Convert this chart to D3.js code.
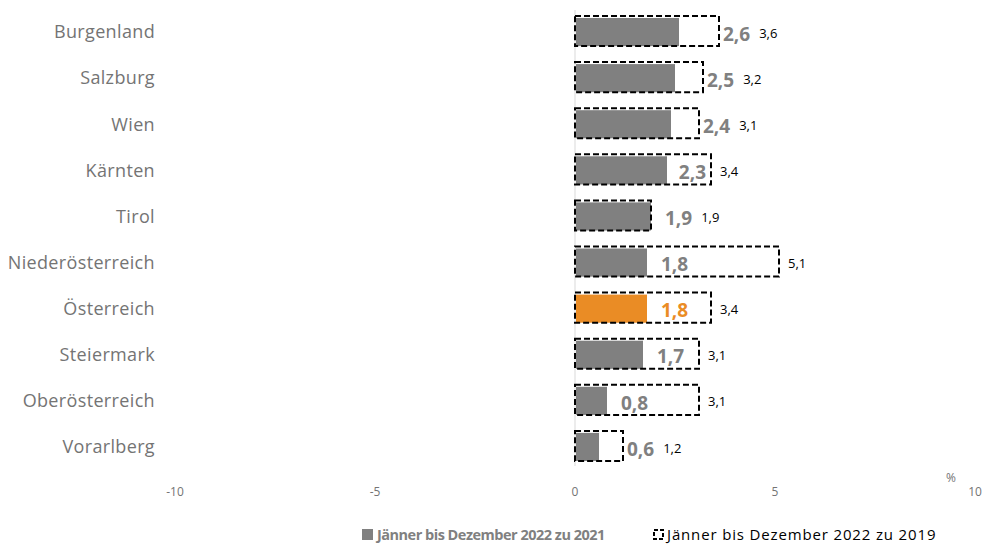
<!DOCTYPE html>
<html>
<head>
<meta charset="utf-8">
<script src="https://cdn.jsdelivr.net/npm/d3@7"></script>
<style>
  body { margin: 0; background: #fff; }
  text { font-family: "Open Sans", "Noto Sans", sans-serif; }
</style>
</head>
<body>
<div id="chart"></div>
<script>
var regions = ["Burgenland", "Salzburg", "Wien", "Kärnten", "Tirol", "Niederösterreich",
    "Österreich", "Steiermark", "Oberösterreich", "Vorarlberg"];
var vs2021 = [2.6, 2.5, 2.4, 2.3, 1.9, 1.8, 1.8, 1.7, 0.8, 0.6];
var vs2019 = [3.6, 3.2, 3.1, 3.4, 1.9, 5.1, 3.4, 3.1, 3.1, 1.2];
var xTicks = [-10, -5, 0, 5, 10];
var legendLabels = ["Jänner bis Dezember 2022 zu 2021", "Jänner bis Dezember 2022 zu 2019"];

var data = regions.map(function (r, i) {
    return { region: r, a: vs2021[i], b: vs2019[i] };
});

var width = 984, height = 546;
var fmt = function (v) { return d3.format(".1f")(v).replace(".", ","); };

var svg = d3.select("#chart")
    .append("svg")
    .attr("width", width)
    .attr("height", height);

var x = d3.scaleLinear()
    .domain([-10, 10])
    .range([175, 975]);

var y = d3.scaleBand()
    .domain(regions)
    .range([9, 470])
    .paddingInner(0.39)
    .paddingOuter(0.195);

// zero line
svg.append("line")
    .attr("x1", x(0)).attr("x2", x(0))
    .attr("y1", 10).attr("y2", 466)
    .attr("stroke", "#d9d9d9")
    .attr("stroke-width", 1);

// category labels
svg.selectAll(".cat")
    .data(data)
    .join("text")
    .attr("x", 155)
    .attr("y", d => y(d.region) + y.bandwidth() / 2)
    .attr("dy", "0.35em")
    .attr("text-anchor", "end")
    .attr("font-size", 18)
    .attr("letter-spacing", 0.35)
    .attr("fill", "#747474")
    .text(d => d.region);

// x tick labels
svg.selectAll(".tick")
    .data(xTicks)
    .join("text")
    .attr("x", d => x(d))
    .attr("y", 492)
    .attr("dy", "0.35em")
    .attr("text-anchor", "middle")
    .attr("font-size", 12)
    .attr("fill", "#747474")
    .text(d => d);

svg.append("text")
    .attr("x", 951)
    .attr("y", 482)
    .attr("text-anchor", "middle")
    .attr("font-size", 12)
    .attr("fill", "#747474")
    .text("%");

// gray / orange bars
svg.selectAll(".barA")
    .data(data)
    .join("rect")
    .attr("x", x(0) + 1)
    .attr("y", d => y(d.region))
    .attr("width", d => x(d.a) - x(0) - 1)
    .attr("height", y.bandwidth())
    .attr("fill", d => d.region === "Österreich" ? "#ea8c25" : "#808080");

// dashed boxes
svg.selectAll(".barB")
    .data(data)
    .join("rect")
    .attr("x", x(0))
    .attr("y", d => y(d.region) - 2)
    .attr("width", d => x(d.b) - x(0))
    .attr("height", y.bandwidth() + 2)
    .attr("fill", "none")
    .attr("stroke", "#000")
    .attr("stroke-width", 2)
    .attr("stroke-dasharray", "6,3");

// value labels: keep clear of the dashed edge (inside if room, else past it)
data.forEach(function (d) {
    var cy = y(d.region) + y.bandwidth() / 2;
    var barEnd = x(d.a), boxEnd = x(d.b);
    var t = svg.append("text")
        .attr("y", cy + 2)
        .attr("dy", "0.35em")
        .attr("font-size", 19)
        .attr("font-weight", "bold")
        .attr("fill", d.region === "Österreich" ? "#ea8c25" : "#808080")
        .text(fmt(d.a));
    var w = t.node().getComputedTextLength();
    var lx = barEnd + 14;
    if (boxEnd > lx - 2 && boxEnd < lx + w + 6) {
        if (boxEnd - barEnd >= w + 14) lx = boxEnd - w - 5;
        else lx = boxEnd + 4;
    }
    t.attr("x", lx);
    var bx = Math.max(boxEnd, lx + w) + 9;
    svg.append("text")
        .attr("x", bx)
        .attr("y", cy + 1)
        .attr("dy", "0.35em")
        .attr("font-size", 13)
        .attr("fill", "#000")
        .text(fmt(d.b));
});

// legend
var lg = svg.append("g");
lg.append("rect")
    .attr("x", 362).attr("y", 529)
    .attr("width", 11).attr("height", 11)
    .attr("fill", "#808080");
lg.append("text")
    .attr("x", 377).attr("y", 535)
    .attr("dy", "0.35em")
    .attr("font-size", 14.5)
    .attr("letter-spacing", -0.5)
    .attr("font-weight", "bold")
    .attr("fill", "#808080")
    .text(legendLabels[0]);
lg.append("rect")
    .attr("x", 654).attr("y", 530)
    .attr("width", 9).attr("height", 9)
    .attr("fill", "none")
    .attr("stroke", "#000")
    .attr("stroke-width", 2)
    .attr("stroke-dasharray", "4,2");
lg.append("text")
    .attr("x", 667).attr("y", 535)
    .attr("dy", "0.35em")
    .attr("font-size", 15)
    .attr("letter-spacing", 0.85)
    .attr("fill", "#000")
    .text(legendLabels[1]);
</script>
</body>
</html>
